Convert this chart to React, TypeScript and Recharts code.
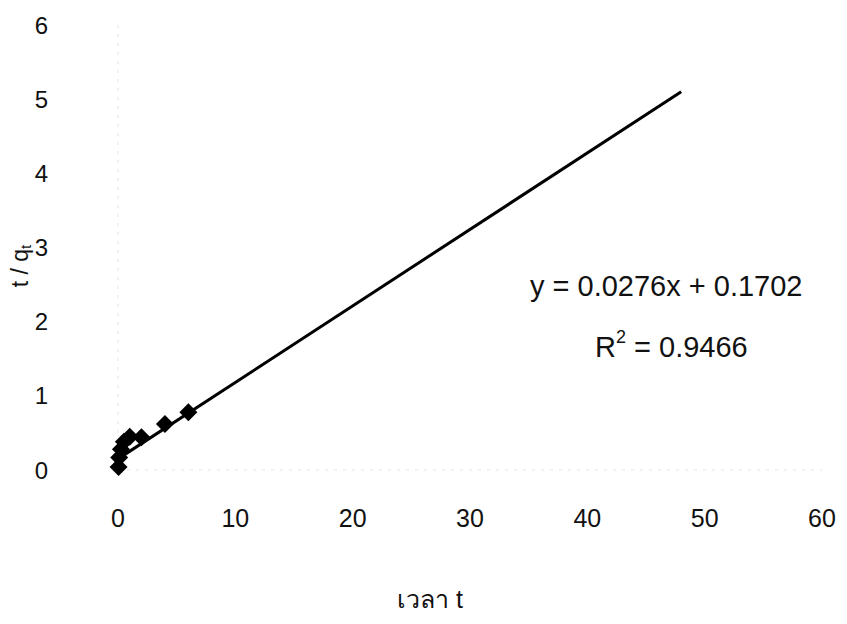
import React from 'react';
import { ScatterChart, Scatter, XAxis, YAxis, ReferenceLine } from 'recharts';

const timeValues = [0.05, 0.1, 0.25, 0.5, 1, 2, 4, 6];
const ratioValues = [0.04, 0.17, 0.28, 0.38, 0.45, 0.44, 0.62, 0.78];
const trendX = [0, 48];
const trendY = [0.15, 5.1];
const xTicks = [0, 10, 20, 30, 40, 50, 60];
const yTicks = [0, 1, 2, 3, 4, 5, 6];
const equationText = 'y = 0.0276x + 0.1702';
const r2Value = '= 0.9466';
const xTitle = 'เวลา t';

const points = timeValues.map((x, i) => ({ x, y: ratioValues[i] }));
const segment = trendX.map((x, i) => ({ x, y: trendY[i] }));

const FONT = '"Liberation Sans", Arial, sans-serif';
const NARROW = '"Liberation Sans Narrow", "Liberation Sans", Arial, sans-serif';

const Diamond = (props: any) => {
  const { cx, cy } = props;
  const r = 9;
  return (
    <polygon
      points={`${cx},${cy - r} ${cx + r},${cy} ${cx},${cy + r} ${cx - r},${cy}`}
      fill="#000"
    />
  );
};

export default function App() {
  const W = 839;
  const H = 616;
  return (
    <div style={{ position: 'relative', width: W, height: H, background: '#fff' }}>
      <ScatterChart width={W} height={H} margin={{ top: 17, right: 25, bottom: 0, left: 0 }}>
        <XAxis
          type="number"
          dataKey="x"
          domain={[0, 60]}
          ticks={xTicks}
          interval={0}
          axisLine={{ stroke: '#e4e4e4', strokeDasharray: '3 6' }}
          tickLine={false}
          tickSize={0}
          tickMargin={39}
          height={154}
          tick={{ fill: '#111', fontSize: 25, fontFamily: NARROW }}
        />
        <YAxis
          type="number"
          dataKey="y"
          domain={[0, 6]}
          ticks={yTicks}
          interval={0}
          width={110}
          axisLine={{ stroke: '#e4e4e4', strokeDasharray: '3 6' }}
          tickLine={false}
          tickSize={0}
          tickMargin={70}
          tick={{ fill: '#111', fontSize: 24, fontFamily: FONT }}
        />
        <ReferenceLine
          segment={segment}
          stroke="#000"
          strokeWidth={3}
          ifOverflow="visible"
        />
        <Scatter data={points} fill="#000" shape={Diamond} isAnimationActive={false} />
      </ScatterChart>
      <svg
        width={W}
        height={H}
        style={{ position: 'absolute', left: 0, top: 0, pointerEvents: 'none' }}
      >
        <text
          x={12}
          y={258}
          transform="rotate(-90 12 258)"
          textAnchor="middle"
          dominantBaseline="central"
          fontFamily={FONT}
          fontSize={23}
          fill="#111"
        >
          t / q<tspan fontSize={15} dy={5}>t</tspan>
        </text>
        <text
          x={422}
          y={600}
          textAnchor="middle"
          fontFamily={NARROW}
          fontSize={25}
          fill="#111"
        >
          {xTitle}
        </text>
        <text x={522} y={288} fontFamily={FONT} fontSize={29} fill="#111">
          {equationText}
        </text>
        <text x={587} y={349} fontFamily={FONT} fontSize={29} fill="#111">
          R<tspan fontSize={18} dy={-14}>2</tspan>
          <tspan dy={14}> {r2Value}</tspan>
        </text>
      </svg>
    </div>
  );
}
